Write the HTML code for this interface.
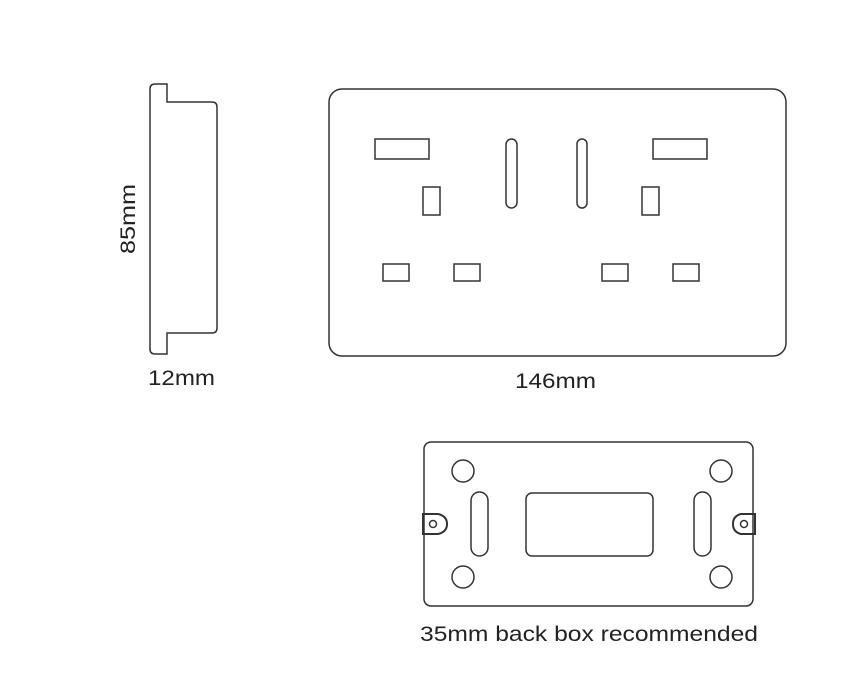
<!DOCTYPE html>
<html><head><style>
html,body{margin:0;padding:0;background:#fff;}
svg{display:block;}
text{font-family:"Liberation Sans",sans-serif;fill:#222;}
</style></head><body>
<svg width="841" height="700" viewBox="0 0 841 700" xmlns="http://www.w3.org/2000/svg">
<g fill="none" stroke="#333" stroke-width="1.5">
<path d="M167,84 L155,84 Q150,84 150,89 L150,349 Q150,354 155,354 L167,354 L167,333 L212,333 Q217,333 217,328 L217,107 Q217,102 212,102 L167,102 Z"/>
<rect x="329" y="89" width="457" height="267" rx="13"/>
<rect x="375" y="139" width="54" height="20"/>
<rect x="653" y="139" width="54" height="20"/>
<rect x="423" y="187" width="17" height="28"/>
<rect x="642" y="187" width="17" height="28"/>
<rect x="506" y="139" width="11" height="69" rx="5.5"/>
<rect x="577" y="139" width="10" height="69" rx="5"/>
<rect x="383" y="264" width="26" height="17"/>
<rect x="454" y="264" width="26" height="17"/>
<rect x="602" y="264" width="26" height="17"/>
<rect x="673" y="264" width="26" height="17"/>
<rect x="424" y="442" width="329" height="164" rx="7"/>
<circle cx="463" cy="471" r="11"/>
<circle cx="721" cy="471" r="11"/>
<circle cx="463" cy="577" r="11"/>
<circle cx="721" cy="577" r="11"/>
<rect x="471" y="492" width="17" height="64" rx="8.5"/>
<rect x="694" y="492" width="17" height="64" rx="8.5"/>
<rect x="526" y="493" width="127" height="63" rx="6"/>
<path d="M423,514 L438,514 Q447,516 447,524 Q447,532 438,534 L423,534 Z" stroke-width="2"/>
<circle cx="433" cy="524" r="3.5"/>
<path d="M755,514 L741,514 Q733,516 733,524 Q733,532 741,534 L755,534 Z" stroke-width="2"/>
<circle cx="744" cy="524" r="3.5"/>
</g>
<text x="148" y="385" font-size="21" textLength="67" lengthAdjust="spacingAndGlyphs">12mm</text>
<text x="515" y="388" font-size="21" textLength="81" lengthAdjust="spacingAndGlyphs">146mm</text>
<text transform="translate(135,254) rotate(-90)" font-size="21" textLength="70" lengthAdjust="spacingAndGlyphs">85mm</text>
<text x="420" y="641" font-size="21" textLength="338" lengthAdjust="spacingAndGlyphs">35mm back box recommended</text>
</svg>
</body></html>
